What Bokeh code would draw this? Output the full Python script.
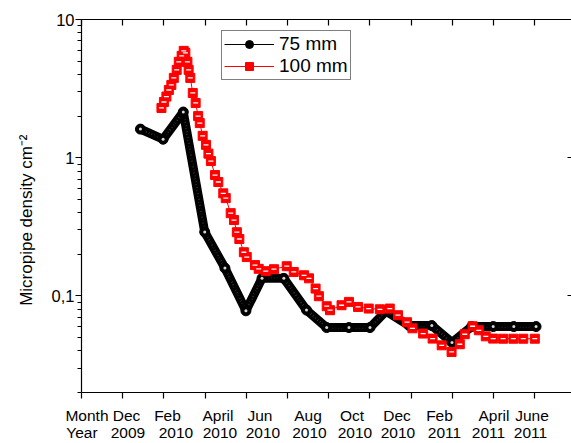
from bokeh.plotting import figure
from bokeh.models import (Range1d, LinearAxis, LogAxis, FixedTicker, CustomJSTickFormatter,
                          Legend, LegendItem)
from bokeh.embed import file_html
from bokeh.resources import INLINE

# ---- data -------------------------------------------------------------
# x is measured in months, 0 = the "Month/Year" column, 1 = Dec 2009, 2 = Feb 2010, ...
x75 = [1.43, 1.98, 2.47, 2.99, 3.48, 3.99, 4.38, 4.91, 5.46, 5.95,
       6.49, 7.00, 7.39, 7.95, 8.50, 8.99, 9.47, 9.99, 10.49, 11.03]
y75 = [1.61, 1.36, 2.14, 0.29, 0.159, 0.078, 0.134, 0.134, 0.079, 0.059,
       0.059, 0.059, 0.0775, 0.061, 0.061, 0.046, 0.060, 0.060, 0.060, 0.060]

x100 = [1.94, 2.00, 2.06, 2.12, 2.18, 2.24, 2.31, 2.36, 2.43, 2.48,
        2.52, 2.57, 2.60, 2.64, 2.70, 2.77, 2.83, 2.87, 2.94, 3.02,
        3.08, 3.14, 3.24, 3.32, 3.44, 3.50, 3.62, 3.70, 3.77, 3.83,
        3.94, 4.01, 4.21, 4.30, 4.47, 4.67, 4.98, 5.15, 5.40, 5.52,
        5.68, 5.76, 5.95, 6.03, 6.31, 6.49, 6.71, 6.97, 7.24, 7.48,
        7.68, 7.90, 8.03, 8.29, 8.52, 8.74, 8.98, 9.18, 9.30, 9.49,
        9.64, 9.81, 9.99, 10.23, 10.48, 10.72, 11.00]
y100 = [2.29, 2.53, 2.77, 3.09, 3.36, 3.78, 4.32, 4.94, 5.46, 5.93,
        5.74, 4.94, 4.32, 3.78, 2.94, 2.49, 2.00, 1.78, 1.44, 1.24,
        1.07, 0.946, 0.749, 0.667, 0.552, 0.510, 0.397, 0.354, 0.289, 0.258,
        0.207, 0.191, 0.167, 0.157, 0.151, 0.156, 0.164, 0.149, 0.141, 0.134,
        0.113, 0.0995, 0.0842, 0.0788, 0.0856, 0.0905, 0.0832, 0.081, 0.080, 0.081,
        0.0725, 0.0645, 0.0583, 0.0534, 0.0491, 0.0439, 0.0393, 0.0447, 0.0528, 0.0603,
        0.0564, 0.051, 0.0491, 0.049, 0.049, 0.049, 0.049]

month_labels = ["Month", "Dec", "Feb", "April", "Jun", "Aug", "Oct", "Dec", "Feb", "April", "June"]
year_labels = ["Year", "2009", "2010", "2010", "2010", "2010", "2010", "2010", "2011", "2011", "2011"]
x_ticks = list(range(0, 12))
y_major = [0.1, 1, 10]

# ---- layout -------------------------------------------------------------
FONT = "Liberation Sans"
W, H = 571, 443
LEFT, TOP, BOTTOM = 81, 19, 50
X_END = 11.89
FRAME_W = W - LEFT
FRAME_BOTTOM = H - BOTTOM
# centres (canvas px) of the hand-set month / year captions under the axis
month_centre_px = [86.5, 126, 167, 217.5, 259.5, 307.5, 351.5, 396.5, 439, 493.5, 531.5]
year_centre_px = [81.5, 127.5, 175.5, 219.5, 262.5, 309, 354.5, 397.5, 444, 488, 530]


def px_to_x(px):
    return (px - LEFT) * X_END / FRAME_W


p = figure(width=W, height=H, output_backend="svg", toolbar_location=None,
           x_range=Range1d(0, X_END), y_range=Range1d(0.02, 10), y_axis_type="log",
           x_axis_location=None, y_axis_location=None,
           min_border_left=LEFT, min_border_right=0, min_border_top=TOP,
           min_border_bottom=BOTTOM)
p.outline_line_color = None
p.background_fill_color = "white"
p.border_fill_color = "white"
for g in p.grid:
    g.visible = False

AX_W = 1.2
common = dict(axis_line_width=AX_W, major_tick_line_width=AX_W, minor_tick_line_width=AX_W,
              axis_line_color="black", major_tick_line_color="black",
              minor_tick_line_color="black")
blank = CustomJSTickFormatter(code="return ''")


def caption_formatter(pos, labels):
    return CustomJSTickFormatter(args=dict(pos=pos, labels=labels), code="""
        let best = 0;
        for (let k = 1; k < pos.length; k++)
            if (Math.abs(pos[k] - tick) < Math.abs(pos[best] - tick)) best = k;
        return labels[best];
    """)


# bottom axis: carries the axis line, the month ticks (as minor ticks) and the month row
month_pos = [px_to_x(c) for c in month_centre_px]
year_pos = [px_to_x(c) for c in year_centre_px]
bottom = LinearAxis(ticker=FixedTicker(ticks=month_pos, minor_ticks=x_ticks),
                    formatter=caption_formatter(month_pos, month_labels),
                    major_tick_out=0, major_tick_in=0, minor_tick_out=6, minor_tick_in=0,
                    major_label_standoff=8, major_label_text_font=FONT,
                    major_label_text_font_size="15.5px", major_label_text_color="black",
                    **common)
p.add_layout(bottom, "below")
years = LinearAxis(ticker=FixedTicker(ticks=year_pos),
                   formatter=caption_formatter(year_pos, year_labels),
                   major_tick_out=0, major_tick_in=0, minor_tick_out=0, minor_tick_in=0,
                   major_label_standoff=-3, major_label_text_font=FONT,
                   major_label_text_font_size="15.5px", major_label_text_color="black",
                   axis_line_color=None)
p.add_layout(years, "below")

top = LinearAxis(ticker=FixedTicker(ticks=x_ticks), formatter=blank,
                 major_tick_out=0, major_tick_in=6, minor_tick_out=0, minor_tick_in=0,
                 major_label_standoff=0, **common)
p.add_layout(top, "above")

minor = [m * 10.0 ** e for e in (-2, -1, 0) for m in range(2, 10)]
left = LogAxis(ticker=FixedTicker(ticks=y_major, minor_ticks=minor),
               formatter=CustomJSTickFormatter(code="return String(tick).replace('.', ',')"),
               major_tick_out=6, major_tick_in=0, minor_tick_out=4, minor_tick_in=0,
               major_label_standoff=1, major_label_text_font=FONT,
               major_label_text_font_size="16.5px", major_label_text_color="black",
               axis_label="Micropipe density cm\u207b\u00b2" + "\u00a0" * 6,
               axis_label_standoff=13, axis_label_text_font=FONT,
               axis_label_text_font_size="17px", axis_label_text_font_style="normal",
               axis_label_text_color="black", **common)
p.add_layout(left, "left")
right = LogAxis(ticker=FixedTicker(ticks=y_major), formatter=blank,
                major_tick_out=0, major_tick_in=4, minor_tick_out=0, minor_tick_in=0,
                major_label_standoff=0, **common)
right.axis_line_color = None
p.add_layout(right, "right")

# ---- 75 mm: a thick run of black beads ------------------------------------
p.line(x75, y75, line_color="black", line_width=9, line_join="round", line_cap="round")
p.line(x75, y75, line_color="#8a8a8a", line_width=1.3, line_dash="1 2")
line75 = p.line(x75, y75, line_color="black", line_width=1)
dots75 = p.scatter(x75, y75, marker="circle", size=10, fill_color="black", line_color="black")
p.scatter(x75, y75, marker="circle", size=3, fill_color="#d6d6d6", line_color=None)

# ---- 100 mm: red squares with a white bar ------------------------------------
line100 = p.line(x100, y100, line_color="red", line_width=1)
sq100 = p.scatter(x100, y100, marker="square", size=9, fill_color="red", line_color="red")
p.scatter(x100, y100, marker="dash", size=5, line_color="white", line_width=1.3)

legend = Legend(items=[LegendItem(label="75 mm", renderers=[line75, dots75]),
                       LegendItem(label="100 mm", renderers=[line100, sq100])],
                location=(221 - LEFT, FRAME_BOTTOM - 81),
                label_text_font=FONT, label_text_font_size="19px", label_text_color="black",
                glyph_width=50, glyph_height=20, label_height=20, label_standoff=5,
                padding=2, spacing=0, margin=0,
                border_line_color="black", border_line_width=1.2,
                background_fill_color="white", background_fill_alpha=1)
p.add_layout(legend)

open("out.html", "w").write(file_html(p, INLINE))
